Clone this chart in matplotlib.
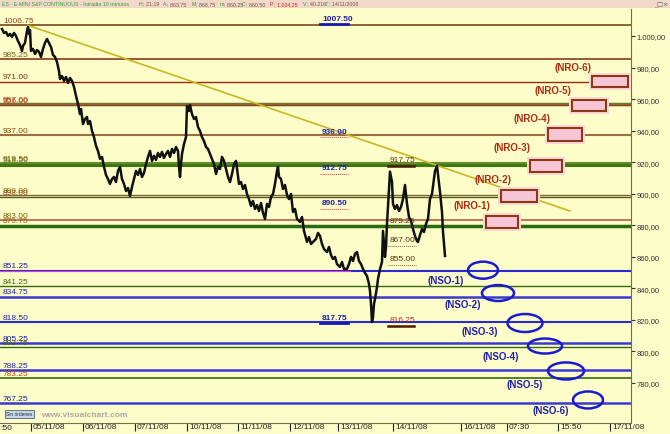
import numpy as np
import matplotlib.pyplot as plt
import matplotlib.transforms as mtransforms
from matplotlib.patches import Rectangle, Ellipse

plt.rcParams['font.family'] = ['Liberation Sans', 'DejaVu Sans']

# price trace (10 minute bars, sampled close values)
bar_pos = [2, 4, 6, 8, 10, 12, 14, 16, 18, 20, 22, 23, 25, 26, 27, 28, 29, 30, 31, 33, 35, 37, 39, 41, 43, 45,
           47, 49, 51, 53, 55, 57, 59, 60, 62, 64, 66, 68, 70, 72, 74, 76, 78, 80, 81, 83, 85, 87, 88, 90, 92,
           94, 96, 98, 100, 102, 104, 106, 108, 110, 112, 114, 116, 118, 120, 122, 124, 126, 128, 130, 132,
           134, 136, 138, 140, 142, 144, 146, 148, 150, 152, 154, 156, 158, 160, 162, 164, 166, 168, 170, 172,
           174, 176, 178, 179, 180, 181, 182, 184, 186,
           187, 189, 190, 192, 194, 196, 198, 200, 202, 204, 206, 208, 210, 212, 214, 216, 218, 220, 222, 224,
           226, 228, 230, 232, 234, 236,
           239, 241, 243, 245, 247, 249, 251, 253, 255, 257, 259, 261, 263, 265, 267, 269, 271, 273, 275, 277,
           278, 279, 281, 283, 285, 287, 289,
           291, 293, 295, 297, 300, 302, 304, 307, 309, 311, 313, 316, 318, 320, 322, 324, 327, 329, 331, 333,
           335, 337, 340, 342, 344, 347, 349, 351, 353, 355, 357, 359, 361, 363, 365, 367, 369, 370, 371, 372,
           373, 374, 375, 377, 378, 380, 382, 383, 384, 385, 386, 387, 388, 389, 390, 392, 393, 395, 397, 399,
           401, 403, 405, 407, 409, 411, 413, 415, 417, 418, 420, 422, 424, 426, 428, 430, 432, 434, 435, 437,
           439, 440, 442, 443, 445]
price = [1004.4, 1001.9, 1002.5, 1000.0, 1001.3, 999.4, 1001.9, 1000.0, 996.8, 994.3, 990.5, 993.7, 995.6,
         999.4, 1003.2, 1005.7, 1001.3, 1003.8, 990.5, 991.8, 988.6, 991.1, 989.9, 986.7, 991.8, 995.6,
         998.1, 995.6, 993.0, 988.0, 986.7, 983.5, 977.8, 972.7, 974.6, 971.5, 974.0, 970.2, 973.4, 971.5,
         967.7, 962.0, 956.9, 950.5, 953.7, 944.2, 947.4, 948.6, 944.2, 946.1, 939.8, 935.9, 930.3, 927.1,
         922.1, 923.3, 917.0, 911.9, 909.3, 906.2, 909.3, 910.6, 907.4, 914.4, 917.0, 909.3, 906.2, 901.7,
         903.6, 898.6, 904.3, 909.3, 914.4, 911.9, 915.7, 910.6, 913.1, 918.8, 923.3, 927.1, 920.8, 924.0,
         921.4, 925.8, 923.3, 926.5, 922.7, 925.2, 927.1, 923.3, 928.4, 925.8, 929.6, 927.1, 917.0, 910.6,
         918.8, 925.2, 931.5, 935.9,
         955.6, 952.4, 956.2, 950.5, 947.4, 948.6, 942.3, 939.8, 935.9, 933.4, 929.6, 928.4, 925.2, 922.1,
         918.8, 912.5, 917.0, 915.7, 923.3, 920.8, 915.7, 910.6, 907.4, 912.5, 918.8, 920.8,
         906.2, 907.4, 903.0, 905.5, 899.8, 896.6, 892.2, 895.4, 890.3, 892.8, 889.0, 894.1, 887.8, 884.0,
         893.5, 891.6, 897.9, 899.8, 906.2, 914.4, 917.0, 910.6, 909.3, 903.0, 905.5, 899.2, 896.6,
         899.8, 888.4, 890.3, 884.0, 882.1, 885.2, 876.4, 869.4, 872.5, 868.1, 869.4, 871.3, 875.1, 873.2,
         868.1, 864.9, 863.0, 866.2, 861.1, 858.6, 859.9, 855.4, 853.5, 856.7, 852.3, 852.3, 855.4, 859.9,
         857.3, 861.8, 863.0, 857.3, 855.4, 852.3, 849.7, 847.8, 842.7, 838.3, 830.1, 818.6, 821.8, 830.1,
         833.2, 840.8, 845.9, 852.3, 856.7, 876.4, 868.1, 859.9, 866.2, 880.8, 892.2, 903.0, 914.0, 907.4,
         893.5, 890.3, 892.8, 889.0, 891.6, 896.6, 905.5, 893.5, 885.2, 882.7, 877.6, 873.2, 870.0, 869.4,
         873.8, 877.6, 875.7, 880.8, 884.0, 896.6, 899.8, 909.3, 914.4, 917.6, 906.2, 901.1, 888.4, 875.9,
         860.5]

# horizontal support / resistance levels
level_vals = [1006.75, 985.25, 971.00, 957.00, 956.00, 937.00, 919.50, 918.50, 899.00, 898.00, 883.00,
              879.75, 851.25, 841.25, 834.75, 818.50, 805.25, 802.75, 788.25, 783.25, 767.25]
level_colors = ['#7a4a1a', '#8a3a1a', '#9a2a10', '#6a7a30', '#b03020', '#9a7040', '#6a8a30', '#3a7a10',
                '#7a6a30', '#5a5a20', '#b08060', '#2a6a10', '#2a2ad0', '#3a6a10', '#3a3ad0', '#2a2ad0',
                '#3a3ad0', '#3a6a10', '#3a3ad0', '#3a6a10', '#3a3ad0']
level_widths = [1.2, 1.2, 1.0, 2.5, 0.8, 1.5, 1.5, 2.2, 1.0, 1.0, 1.5, 2.5, 1.5, 1.0, 1.8, 1.5, 1.8, 1.0,
                1.8, 1.2, 1.8]
label_colors = ['#8a4a20', '#7a5a20', '#7a3a10', '#8a5a20', '#c03020', '#8a4a10', '#7a6a10', '#6a6a20',
                '#7a6a10', '#9a4a20', '#7a6a10', '#9a5a20', '#2020a0', '#3a6a10', '#2020a0', '#2020a0',
                '#2020a0', '#4a5a20', '#2020a0', '#c04020', '#2020a0']

# trend line
trend_x = [28, 570]
trend_y = [1006.75, 889.0]

# NRO boxes
nro_names = ['(NRO-1)', '(NRO-2)', '(NRO-3)', '(NRO-4)', '(NRO-5)', '(NRO-6)']
nro_start = [486, 501, 530, 548, 572, 592]
nro_end = [518, 537, 562, 582, 606, 628]
nro_low = [878.2, 894.7, 913.8, 933.4, 952.4, 967.7]
nro_high = [885.9, 902.3, 921.4, 941.7, 959.4, 974.6]
nro_lab_x = [472, 493, 512, 532, 553, 573]
nro_lab_y = [892.8, 909.3, 929.6, 948.0, 965.8, 980.3]

# NSO ellipses
nso_names = ['(NSO-1)', '(NSO-2)', '(NSO-3)', '(NSO-4)', '(NSO-5)', '(NSO-6)']
nso_x = [483, 498, 525, 545, 566, 588]
nso_y = [851.5, 837.0, 818.0, 803.4, 787.6, 769.2]
nso_w = [30, 32, 35, 34, 36, 30]
nso_h = [10.8, 10.1, 11.4, 9.5, 10.8, 10.8]
nso_lab_x = [446, 463, 480, 501, 525, 551]
nso_lab_y = [845.3, 830.1, 812.9, 797.1, 779.3, 762.9]

# small price marks in the middle
mark_vals = [1007.50, 936.00, 912.75, 890.50, 817.75]
mark_solid = [True, False, False, False, True]
mark2_vals = [917.75, 879.25, 867.00, 855.00, 816.25]
mark2_solid = [True, False, False, False, True]

tick_pos = [31, 83, 135, 187, 238, 290, 338, 393, 461, 507, 558, 610]
tick_labels = ['05/11/08', '06/11/08', '07/11/08', '10/11/08', '11/11/08', '12/11/08', '13/11/08',
               '14/11/08', '16/11/08', '07:30', '15:50', '17/11/08']

bg = '#fdfdc9'
W, H = 670, 435

fig = plt.figure(figsize=(6.7, 4.35), dpi=100)
fig.patch.set_facecolor(bg)
ax = fig.add_axes([0, 11 / H, 631 / W, 414 / H])
ax.set_facecolor(bg)
ax.set_xlim(0, 631)
ax.set_ylim(754.6, 1017.1)

for v, c, lw, lc in zip(level_vals, level_colors, level_widths, label_colors):
    ax.axhline(v, color=c, lw=lw, zorder=1)
    ax.text(3, v + 0.8, f"{v:.2f}", color=lc, fontsize=6, va='bottom', ha='left', zorder=2)
ax.plot([0, 350], [850.7, 850.7], color='#e040c0', lw=0.8, zorder=1)

ax.plot(trend_x, trend_y, color='#c8b820', lw=1.2, zorder=2)

ax.plot(bar_pos, price, color='#111111', lw=1.8, zorder=3)

# middle annotations
for v, solid in zip(mark_vals, mark_solid):
    ax.text(322, v + 1.5, f"{v:.2f}", color='#2020b0', fontsize=6, fontweight='bold', va='bottom')
    if solid:
        ax.plot([320, 348], [v, v], color='#1a1ab0', lw=2, zorder=4)
    else:
        ax.plot([320, 348], [v, v], color='#d04040', lw=0.7, ls=(0, (1, 1)), zorder=4)
for v, solid in zip(mark2_vals, mark2_solid):
    col = '#b03020' if v < 830 else '#5a3010'
    ax.text(390, v + 1.5, f"{v:.2f}", color=col, fontsize=6, va='bottom')
    if solid:
        ax.plot([388, 414], [v, v], color='#4a1a00', lw=1.8, zorder=4)
    else:
        ax.plot([388, 416], [v, v], color='#806040', lw=0.7, ls=(0, (1, 1)), zorder=4)

for name, x0, x1, lo, hi, lx, ly in zip(nro_names, nro_start, nro_end, nro_low, nro_high, nro_lab_x, nro_lab_y):
    ax.add_patch(Rectangle((x0 - 3, lo - 2), x1 - x0 + 6, hi - lo + 4, facecolor='#fbd8d8',
                           edgecolor='none', zorder=4))
    ax.add_patch(Rectangle((x0, lo), x1 - x0, hi - lo, facecolor='#f6c6d6',
                           edgecolor='#8a3a10', lw=1.5, zorder=5))
    ax.text(lx, ly, name, color='#b02a10', fontsize=7, fontweight='bold', ha='center', va='center', zorder=5)

for name, x, y, w, h, lx, ly in zip(nso_names, nso_x, nso_y, nso_w, nso_h, nso_lab_x, nso_lab_y):
    ax.add_patch(Ellipse((x, y), w, h, facecolor='none', edgecolor='#1a1ad0', lw=1.8, zorder=5))
    ax.text(lx, ly, name, color='#2020b0', fontsize=7, fontweight='bold', ha='center', va='center', zorder=5)

# axes styling
for s in ['left', 'top']:
    ax.spines[s].set_visible(False)
ax.spines['right'].set_color('#707050')
ax.spines['bottom'].set_color('#707050')
ax.yaxis.tick_right()
yt = np.arange(780, 1001, 20)
ax.set_yticks(yt)
ax.set_yticklabels([f"{v:,.2f}".replace(',', 'X').replace('.', ',').replace('X', '.') for v in yt])
ax.tick_params(axis='y', direction='out', length=3, pad=1, labelsize=5.5, colors='#333333')
ax.set_xticks(tick_pos)
ax.set_xticklabels(tick_labels)
ax.tick_params(axis='x', direction='out', length=6, pad=-6, labelsize=6, colors='#222222')
shift = mtransforms.ScaledTranslation(2 / 100, 0, fig.dpi_scale_trans)
for lbl in ax.get_xticklabels():
    lbl.set_ha('left')
    lbl.set_transform(lbl.get_transform() + shift)
fig.text(0, 1 - 429 / H, ':50', fontsize=6, color='#222222', va='center')

# bottom-left widgets
fig.text(6 / W, 1 - 415 / H, 'Sin órdenes', fontsize=3.5, color='#203040', va='center',
         bbox=dict(boxstyle='square,pad=0.3', facecolor='#c8d8e8', edgecolor='#506070', lw=0.6))
fig.text(41 / W, 1 - 416 / H, 'www.visualchart.com', fontsize=6, color='#a8a8a8', fontweight='bold',
         va='center')

# header bar
hax = fig.add_axes([0, 1 - 9 / H, 1, 9 / H])
hax.set_zorder(5)
hax.set_xlim(0, W)
hax.set_ylim(0, 1)
hax.axis('off')
hax.add_patch(Rectangle((0, 0), W, 1, facecolor='#f2d8c8', edgecolor='none'))
green, dark, red = '#30a040', '#6a5a40', '#e02020'
pieces = [(2, 'ES - E-MINI S&P CONTINUOUS - Intradia 10 minutos', green),
          (139, 'H', green), (143, ': 21:19', dark), (163, 'A', green), (167, ': 863,75', dark),
          (192, 'M', green), (196, ': 868,75', dark), (220, 'm', green), (224, ': 860,25', dark),
          (242, 'C', green), (246, ': 860,50', dark), (270, 'P', red), (274, ': 1.024,25', red),
          (303, 'V', green), (307, ': 40.216', dark), (325, 'T', green), (329, ': 14/11/2008', dark)]
for px, t, c in pieces:
    hax.text(px, 0.45, t, color=c, fontsize=3.8, va='center', ha='left')
hax.text(668, 0.45, '_□×', color='#555555', fontsize=4.5, va='center', ha='right', family='DejaVu Sans')

fig.savefig('out.png', dpi=100, facecolor=bg)
